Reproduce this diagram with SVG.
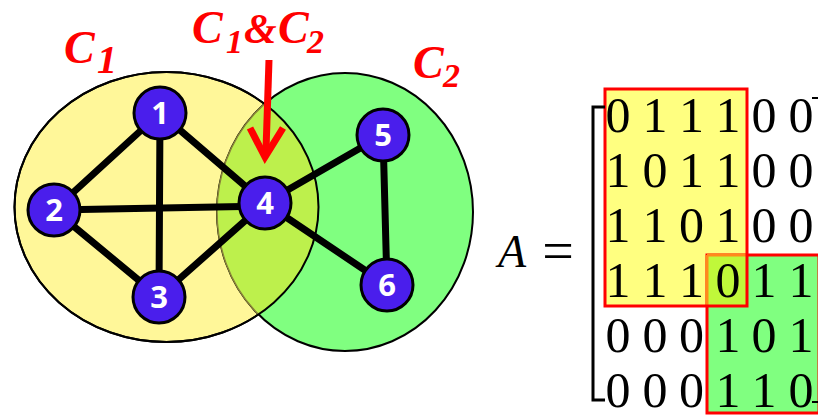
<svg xmlns="http://www.w3.org/2000/svg" width="818" height="415" viewBox="0 0 818 415">
<style>
.edge{stroke:#000;stroke-width:7;stroke-linecap:round}
.node circle{fill:#4a1eec;stroke:#000;stroke-width:3}
.node text{fill:#fff;font-family:"Open Sans","Liberation Sans",sans-serif;font-weight:bold;font-size:31px;text-anchor:middle}
.lbl{fill:#f00;font-family:"Liberation Serif",serif;font-weight:bold;font-style:italic}
.m{font-family:"Liberation Serif",serif;font-size:50px;text-anchor:middle;fill:#000}
</style>
<defs>
<clipPath id="cy"><ellipse cx="166.5" cy="207" rx="152" ry="135"/></clipPath>
</defs>
<rect width="818" height="415" fill="#fff"/>
<g id="communities">
<ellipse id="C1" cx="166.5" cy="207" rx="152" ry="135" fill="#fff799" stroke="#000" stroke-width="2"/>
<ellipse id="C2" cx="345" cy="212" rx="128" ry="139" fill="#80ff80" stroke="#000" stroke-width="2"/>
<ellipse cx="345" cy="212" rx="128" ry="139" fill="#bdf04c" stroke="#8a8438" stroke-width="1.5" clip-path="url(#cy)"/>
<ellipse cx="166.5" cy="207" rx="152" ry="135" fill="none" stroke="#000" stroke-width="2"/>
</g>
<g id="connectors">
<line class="edge" x1="160" y1="113" x2="54" y2="210"/>
<line class="edge" x1="160" y1="113" x2="159" y2="297"/>
<line class="edge" x1="160" y1="113" x2="265" y2="203"/>
<line class="edge" x1="54" y1="210" x2="265" y2="206"/>
<line class="edge" x1="54" y1="210" x2="159" y2="297"/>
<line class="edge" x1="159" y1="297" x2="265" y2="203"/>
<line class="edge" x1="265" y1="203" x2="383" y2="135"/>
<line class="edge" x1="265" y1="203" x2="387" y2="285"/>
<line class="edge" x1="383" y1="135" x2="387" y2="285"/>
</g>
<g id="n1" class="node"><circle cx="160" cy="113" r="26"/><text x="160" y="124">1</text></g>
<g id="n2" class="node"><circle cx="54" cy="210" r="26"/><text x="54" y="221">2</text></g>
<g id="n3" class="node"><circle cx="159" cy="297" r="26"/><text x="159" y="308">3</text></g>
<g id="n4" class="node"><circle cx="265" cy="203" r="26"/><text x="265" y="214">4</text></g>
<g id="n5" class="node"><circle cx="383" cy="135" r="26"/><text x="383" y="146">5</text></g>
<g id="n6" class="node"><circle cx="387" cy="285" r="26"/><text x="387" y="296">6</text></g>
<g id="labels">
<text class="lbl" x="64" y="63" font-size="46">C</text><text class="lbl" x="97" y="73" font-size="40" font-style="normal">1</text>
<text class="lbl" x="192" y="43" font-size="46">C</text><text class="lbl" x="226" y="53" font-size="34" font-style="normal">1</text>
<text class="lbl" x="244" y="43" font-size="42" font-style="normal" font-weight="normal">&amp;</text>
<text class="lbl" x="278" y="43" font-size="46">C</text><text class="lbl" x="307" y="53" font-size="34" font-style="normal">2</text>
<text class="lbl" x="413" y="78" font-size="46">C</text><text class="lbl" x="443" y="87" font-size="34" font-style="normal">2</text>
</g>
<g id="arrow" stroke="#f00" fill="none" stroke-width="7">
<line x1="269" y1="60" x2="266" y2="150"/>
<polyline points="250,128 265,157 283,128" stroke-linejoin="miter" stroke-miterlimit="10"/>
</g>
<g id="matrix">
<rect x="605" y="89" width="142" height="217" fill="#ffff80"/>
<rect x="707" y="255" width="112" height="158" fill="#80ff80" stroke="#f00" stroke-width="3"/>
<rect x="707" y="255" width="40" height="51" fill="#c0f83a"/>
<path d="M707 255 H747 M707 255 V306" stroke="#ff8a1a" stroke-width="3" fill="none"/>
<rect x="605" y="89" width="142" height="217" fill="none" stroke="#f00" stroke-width="3"/>
<path d="M605 107 H593 V400 H605" fill="none" stroke="#000" stroke-width="3"/>
<path d="M812 98 H820 M812 402 H820" fill="none" stroke="#000" stroke-width="2"/>
<text x="498" y="267" font-family="Liberation Serif,serif" font-style="italic" font-size="46">A</text>
<text x="558" y="270" font-family="Liberation Serif,serif" font-size="56" text-anchor="middle">=</text>
<g class="m">
<text y="132"><tspan x="618">0</tspan><tspan x="655">1</tspan><tspan x="691.5">1</tspan><tspan x="728">1</tspan><tspan x="764">0</tspan><tspan x="801">0</tspan></text>
<text y="187"><tspan x="618">1</tspan><tspan x="655">0</tspan><tspan x="691.5">1</tspan><tspan x="728">1</tspan><tspan x="764">0</tspan><tspan x="801">0</tspan></text>
<text y="242"><tspan x="618">1</tspan><tspan x="655">1</tspan><tspan x="691.5">0</tspan><tspan x="728">1</tspan><tspan x="764">0</tspan><tspan x="801">0</tspan></text>
<text y="297"><tspan x="618">1</tspan><tspan x="655">1</tspan><tspan x="691.5">1</tspan><tspan x="728">0</tspan><tspan x="764">1</tspan><tspan x="801">1</tspan></text>
<text y="352"><tspan x="618">0</tspan><tspan x="655">0</tspan><tspan x="691.5">0</tspan><tspan x="728">1</tspan><tspan x="764">0</tspan><tspan x="801">1</tspan></text>
<text y="407"><tspan x="618">0</tspan><tspan x="655">0</tspan><tspan x="691.5">0</tspan><tspan x="728">1</tspan><tspan x="764">1</tspan><tspan x="801">0</tspan></text>
</g>
</g>
</svg>
